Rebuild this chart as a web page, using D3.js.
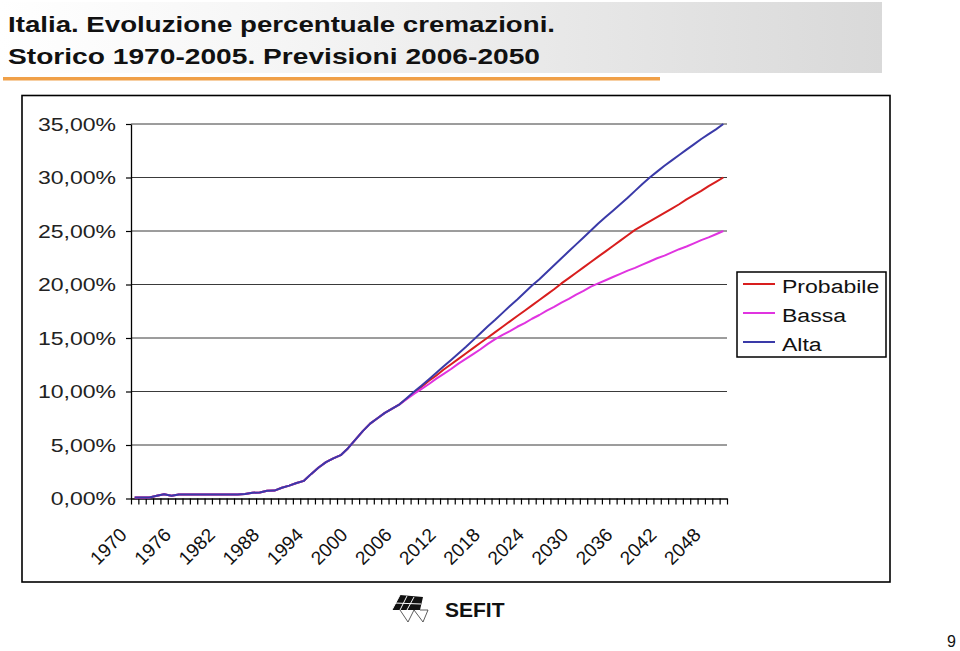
<!DOCTYPE html>
<html>
<head>
<meta charset="utf-8">
<script src="https://cdn.jsdelivr.net/npm/d3@7"></script>
<style>
body { margin: 0; background: #fff; }
svg { display: block; font-family: Arial, "Liberation Sans", sans-serif; }
</style>
</head>
<body>
<svg width="960" height="651"></svg>
<script>
// storico 1970-2005 (uguale per tutti gli scenari)
var anniStorici = d3.range(1970, 2006);
var storico = [0.10, 0.10, 0.10, 0.25, 0.40, 0.25, 0.38, 0.38, 0.38, 0.38,
               0.38, 0.38, 0.38, 0.38, 0.38, 0.42, 0.54, 0.56, 0.72, 0.74,
               1.00, 1.20, 1.45, 1.65, 2.30, 2.90, 3.40, 3.75, 4.05, 4.70,
               5.50, 6.30, 7.00, 7.50, 8.00, 8.40];

// previsioni 2006-2050
var anniPrevisti = d3.range(2006, 2051);
var probabile = [8.80, 9.35, 9.90, 10.45, 11.00, 11.50, 12.05, 12.55, 13.05, 13.55,
                 14.05, 14.55, 15.05, 15.55, 16.05, 16.55, 17.05, 17.55, 18.05, 18.55,
                 19.05, 19.55, 20.10, 20.60, 21.10, 21.60, 22.10, 22.60, 23.10, 23.60,
                 24.10, 24.60, 25.10, 25.50, 25.90, 26.30, 26.70, 27.10, 27.50, 27.95,
                 28.35, 28.75, 29.20, 29.60, 30.00];
var bassa = [8.80, 9.30, 9.80, 10.25, 10.70, 11.20, 11.65, 12.10, 12.60, 13.05,
             13.50, 13.95, 14.45, 14.90, 15.30, 15.65, 16.05, 16.40, 16.80, 17.15,
             17.55, 17.90, 18.30, 18.65, 19.05, 19.40, 19.80, 20.10, 20.40, 20.70,
             21.00, 21.30, 21.55, 21.85, 22.15, 22.45, 22.70, 23.00, 23.30, 23.55,
             23.85, 24.15, 24.40, 24.70, 25.00];
var alta = [8.80, 9.40, 10.00, 10.55, 11.15, 11.75, 12.35, 12.95, 13.55, 14.15,
            14.80, 15.45, 16.10, 16.70, 17.35, 18.00, 18.60, 19.25, 19.90, 20.50,
            21.15, 21.80, 22.45, 23.10, 23.75, 24.40, 25.05, 25.70, 26.30, 26.90,
            27.50, 28.10, 28.75, 29.40, 30.00, 30.55, 31.10, 31.60, 32.10, 32.60,
            33.10, 33.60, 34.05, 34.50, 35.00];

var nomiSerie = ["Probabile", "Bassa", "Alta"];
var coloriSerie = ["#d81e1e", "#e034e0", "#3a3aa8"];
var yTicks = [0, 5, 10, 15, 20, 25, 30, 35];
var xEtichette = d3.range(1970, 2051, 6);

var anni = anniStorici.concat(anniPrevisti);
var serie = [probabile, bassa, alta].map(function(prev, i) {
  var valori = storico.concat(prev);
  return {
    nome: nomiSerie[i],
    colore: coloriSerie[i],
    punti: anni.map(function(a, j) { return {anno: a, v: valori[j]}; })
  };
});

var svg = d3.select("svg");
var it = d3.formatLocale({decimal: ",", thousands: ".", grouping: [3], currency: ["€", ""]});
var fmt = it.format(".2f");

// testata con sfumatura grigia
var defs = svg.append("defs");
var grad = defs.append("linearGradient").attr("id", "testata");
grad.append("stop").attr("offset", "0%").attr("stop-color", "#ffffff");
grad.append("stop").attr("offset", "30%").attr("stop-color", "#f6f6f6");
grad.append("stop").attr("offset", "100%").attr("stop-color", "#d9d9d9");

svg.append("rect").attr("x", 0).attr("y", 2).attr("width", 882).attr("height", 71)
  .attr("fill", "url(#testata)");
svg.append("text").attr("x", 8).attr("y", 32)
  .attr("font-size", 22).attr("font-weight", "bold").attr("fill", "#111")
  .attr("textLength", 547).attr("lengthAdjust", "spacingAndGlyphs")
  .text("Italia. Evoluzione percentuale cremazioni.");
svg.append("text").attr("x", 8).attr("y", 64)
  .attr("font-size", 22).attr("font-weight", "bold").attr("fill", "#111")
  .attr("textLength", 532).attr("lengthAdjust", "spacingAndGlyphs")
  .text("Storico 1970-2005.  Previsioni 2006-2050");
svg.append("rect").attr("x", 3).attr("y", 77).attr("width", 657).attr("height", 3.5)
  .attr("fill", "#f0a048");

// cornice del grafico
svg.append("rect").attr("x", 22).attr("y", 95.5).attr("width", 868).attr("height", 486.5)
  .attr("fill", "none").attr("stroke", "#000").attr("stroke-width", 1.6);

// scale
var x = d3.scaleBand().domain(anni).range([131, 727]);
var xIdx = d3.scaleLinear().domain([0, anni.length]).range([131, 727]);
var y = d3.scaleLinear().domain([0, 35]).range([498.5, 124]);

// griglia
svg.append("g").selectAll("line")
  .data(yTicks.slice(1))
  .enter().append("line")
    .attr("x1", 131).attr("x2", 727)
    .attr("y1", function(d) { return y(d); })
    .attr("y2", function(d) { return y(d); })
    .attr("stroke", "#3a3a3a").attr("stroke-width", 1);

// asse y
var yAxis = svg.append("g")
  .attr("transform", "translate(131,0)")
  .call(d3.axisLeft(y).tickValues(yTicks).tickSize(5).tickSizeOuter(0)
    .tickFormat(function(d) { return fmt(d) + "%"; }));
yAxis.select(".domain").attr("stroke", "#000").attr("stroke-width", 1.3);
yAxis.selectAll(".tick line").attr("stroke", "#000").attr("stroke-width", 1.2);
yAxis.selectAll(".tick text")
  .attr("x", 0).attr("dy", "0.35em")
  .attr("transform", "translate(-15,0) scale(1.28,1)")
  .attr("font-size", 18).attr("font-family", "Arial, 'Liberation Sans', sans-serif")
  .attr("fill", "#222");

// asse x: tacche tra le categorie
var xAxis = svg.append("g")
  .attr("transform", "translate(0,498.5)")
  .call(d3.axisBottom(xIdx).tickValues(d3.range(anni.length + 1)).tickSize(6)
    .tickSizeOuter(0).tickFormat(""));
xAxis.select(".domain").attr("stroke", "#000").attr("stroke-width", 1.3);
xAxis.selectAll(".tick line").attr("stroke", "#000").attr("stroke-width", 1.2);

svg.append("g").selectAll("text")
  .data(xEtichette)
  .enter().append("text")
    .attr("transform", function(d) {
      return "translate(" + (x(d) + x.bandwidth() / 2 - 6.7) + ",536) rotate(-45)";
    })
    .attr("text-anchor", "end")
    .attr("font-size", 19)
    .attr("fill", "#111")
    .text(function(d) { return d; });

// linee
var line = d3.line()
  .x(function(d) { return x(d.anno) + x.bandwidth() / 2; })
  .y(function(d) { return y(d.v); });

svg.append("g").selectAll("path")
  .data(serie)
  .enter().append("path")
    .attr("d", function(d) { return line(d.punti); })
    .attr("fill", "none")
    .attr("stroke", function(d) { return d.colore; })
    .attr("stroke-width", 2)
    .attr("stroke-linejoin", "round");

// legenda
var legenda = svg.append("g");
legenda.append("rect").attr("x", 737).attr("y", 272).attr("width", 149).attr("height", 85)
  .attr("fill", "#fff").attr("stroke", "#000").attr("stroke-width", 1.5);
var voce = legenda.selectAll("g.voce")
  .data(serie)
  .enter().append("g")
    .attr("class", "voce")
    .attr("transform", function(d, i) { return "translate(0," + (284 + i * 29) + ")"; });
voce.append("line")
  .attr("x1", 743).attr("x2", 775)
  .attr("stroke", function(d) { return d.colore; }).attr("stroke-width", 2);
voce.append("text")
  .attr("transform", "translate(782,9) scale(1.28,1)")
  .attr("font-size", 18).attr("fill", "#111")
  .text(function(d) { return d.nome; });

// logo SEFIT
var logo = svg.append("g").attr("transform", "translate(390,594)");
logo.append("path")
  .attr("d", "M2,16 L10,1 L33,3 L30,16 Z")
  .attr("fill", "#111");
logo.append("path")
  .attr("d", "M2,16 L10,1 M10,16 L17,2 M17,16 L24,3 M4,9 L31,10")
  .attr("stroke", "#fff").attr("stroke-width", 1).attr("fill", "none");
logo.append("path")
  .attr("d", "M10,16 L18,28 L24,16 L33,28 L38,16 L30,16")
  .attr("stroke", "#333").attr("stroke-width", 0.8).attr("fill", "none");
svg.append("text").attr("x", 445).attr("y", 617)
  .attr("font-size", 21).attr("font-weight", "bold").attr("fill", "#111")
  .text("SEFIT");

// numero pagina
svg.append("text").attr("x", 947).attr("y", 647)
  .attr("font-size", 16).attr("fill", "#111")
  .text("9");
</script>
</body>
</html>
